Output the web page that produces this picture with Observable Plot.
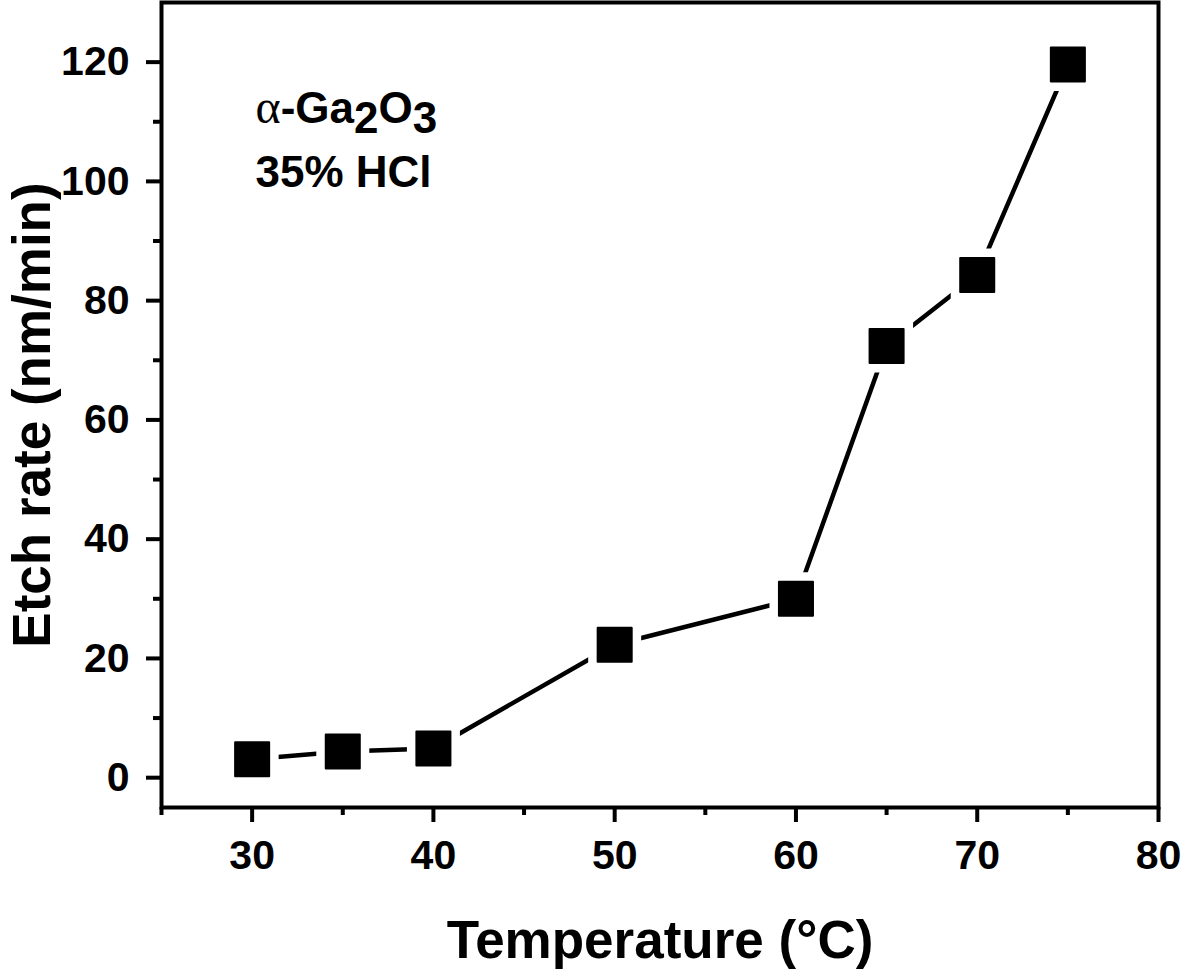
<!DOCTYPE html>
<html>
<head>
<meta charset="utf-8">
<script src="https://cdn.jsdelivr.net/npm/d3@7"></script>
<script src="https://cdn.jsdelivr.net/npm/@observablehq/plot@0.6"></script>
<style>
  html, body { margin: 0; padding: 0; background: white; }
  #chart svg { display: block; }
</style>
</head>
<body>
<div id="chart"></div>
<script>
// Data
const temperatures = [30, 35, 40, 50, 60, 65, 70, 75];
const etchRates = [3.1, 4.4, 4.9, 22.3, 30.0, 72.4, 84.3, 119.6];

// Axis ticks
const xMajorTicks = [30, 40, 50, 60, 70, 80];
const xMinorTicks = [25, 35, 45, 55, 65, 75];
const yMajorTicks = [0, 20, 40, 60, 80, 100, 120];
const yMinorTicks = [10, 30, 50, 70, 90, 110];

// Text
const xTitle = "Temperature (°C)";
const yTitle = "Etch rate (nm/min)";
const annotationLines = ["α-Ga2O3", "35% HCl"];

const data = temperatures.map((t, i) => ({t, r: etchRates[i]}));

const font = "'Liberation Sans', Arial, Helvetica, sans-serif";

const chart = Plot.plot({
  width: 1181,
  height: 969,
  marginLeft: 161,
  marginRight: 23,
  marginTop: 2,
  marginBottom: 162,
  x: {domain: [25, 80]},
  y: {domain: [-5, 130]},
  style: {fontFamily: font, fontWeight: "bold", fontSize: "41px", color: "black", background: "white", overflow: "visible"},
  marks: [
    Plot.axisX({ticks: xMajorTicks, tickSize: 15, strokeWidth: 4, tickPadding: 17, fontSize: 41, fontWeight: "bold", label: null}),
    Plot.axisX({ticks: xMinorTicks, tickSize: 8, strokeWidth: 4, tickFormat: () => "", label: null}),
    Plot.axisY({ticks: yMajorTicks, tickSize: 15, strokeWidth: 4, tickPadding: 17, fontSize: 41, fontWeight: "bold", label: null}),
    Plot.axisY({ticks: yMinorTicks, tickSize: 8, strokeWidth: 4, tickFormat: () => "", label: null}),
    Plot.line(data, {x: "t", y: "r", stroke: "black", strokeWidth: 4.5}),
    Plot.dot(data, {x: "t", y: "r", symbol: "square", r: 29.9, fill: "white"}),
    Plot.dot(data, {x: "t", y: "r", symbol: "square", r: 19.2, fill: "black", stroke: "black", strokeWidth: 2, strokeLinejoin: "round"}),
    Plot.frame({stroke: "black", strokeWidth: 4}),
    Plot.text([xTitle], {frameAnchor: "bottom", textAnchor: "middle", lineAnchor: "middle", dy: 134, fontSize: 53, fontWeight: "bold", fill: "black"}),
    Plot.text([yTitle], {frameAnchor: "left", textAnchor: "middle", lineAnchor: "middle", dx: -128, dy: 10, rotate: -90, fontSize: 53, fontWeight: "bold", fill: "black"}),
    Plot.text([annotationLines[0]], {frameAnchor: "top-left", textAnchor: "start", lineAnchor: "middle", dx: 94, dy: 106, fontSize: 44, fontWeight: "bold", fill: "black"}),
    Plot.text([annotationLines[1]], {frameAnchor: "top-left", textAnchor: "start", lineAnchor: "middle", dx: 94, dy: 170, fontSize: 44, fontWeight: "bold", fill: "black"})
  ]
});

// Render chemical formula with subscripts and a serif alpha
d3.select(chart).selectAll("text").each(function() {
  if (this.textContent === annotationLines[0]) {
    const t = d3.select(this);
    t.text(null);
    t.append("tspan").attr("font-family", "'Liberation Serif', 'Times New Roman', serif").attr("font-weight", "normal").attr("font-size", 48).text("α");
    t.append("tspan").text("-Ga");
    t.append("tspan").attr("dy", 10).text("2");
    t.append("tspan").attr("dy", -10).text("O");
    t.append("tspan").attr("dy", 10).text("3");
  }
});

document.getElementById("chart").appendChild(chart);
</script>
</body>
</html>
